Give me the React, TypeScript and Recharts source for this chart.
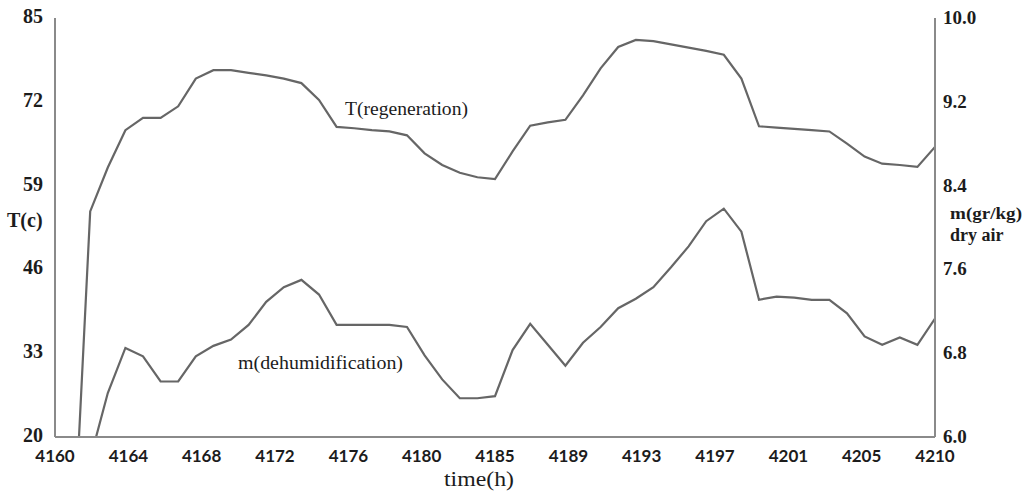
import React from 'react';
import { LineChart, Line, XAxis, YAxis } from 'recharts';

const hours = [
  4160, 4161, 4162, 4163, 4164, 4165, 4166, 4167, 4168, 4169,
  4170, 4171, 4172, 4173, 4174, 4175, 4176, 4177, 4178, 4179,
  4180, 4181, 4182, 4183, 4184, 4185, 4186, 4187, 4188, 4189,
  4190, 4191, 4192, 4193, 4194, 4195, 4196, 4197, 4198, 4199,
  4200, 4201, 4202, 4203, 4204, 4205, 4206, 4207, 4208, 4209, 4210,
];

const tRegeneration = [
  0, 0, 55.0, 61.8, 67.6, 69.5, 69.5, 71.3, 75.6, 76.9,
  76.9, 76.5, 76.1, 75.6, 74.9, 72.3, 68.1, 67.9, 67.6, 67.4,
  66.8, 64.0, 62.2, 61.0, 60.3, 60.0, 64.3, 68.3, 68.8, 69.2,
  73.0, 77.2, 80.5, 81.6, 81.4, 80.9, 80.4, 79.9, 79.3, 75.6,
  68.2, 68.0, 67.8, 67.6, 67.4, 65.5, 63.5, 62.4, 62.2, 61.9, 65.0,
];

const mDehumidification = [
  5.5, 5.6, 5.79, 6.42, 6.85, 6.77, 6.53, 6.53, 6.77, 6.87,
  6.93, 7.07, 7.29, 7.43, 7.5, 7.36, 7.07, 7.07, 7.07, 7.07,
  7.05, 6.78, 6.55, 6.37, 6.37, 6.39, 6.83, 7.08, 6.88, 6.68,
  6.9, 7.05, 7.23, 7.32, 7.43, 7.62, 7.82, 8.06, 8.18, 7.96,
  7.31, 7.34, 7.33, 7.31, 7.31, 7.18, 6.96, 6.88, 6.95, 6.88, 7.13,
];

const xTickPositions = [4160, 4164.17, 4168.33, 4172.5, 4176.67, 4180.83, 4185, 4189.17, 4193.33, 4197.5, 4201.67, 4205.83, 4210];
const xTickLabels = ['4160', '4164', '4168', '4172', '4176', '4180', '4185', '4189', '4193', '4197', '4201', '4205', '4210'];
const leftTicks = [20, 33, 46, 59, 72, 85];
const rightTicks = [6.0, 6.8, 7.6, 8.4, 9.2, 10.0];

const leftMinor = Array.from({ length: 51 }, (_, i) => 20 + i * 1.3);
const rightMinor = Array.from({ length: 51 }, (_, i) => 6 + i * 0.08);

const data = hours.map((h, i) => ({ t: h, T: tRegeneration[i], m: mDehumidification[i] }));

const AXIS = '#8a8a8a';
const LINE = '#666666';
const TEXT = '#1c1c1c';
const MINOR = '#9a9a9a';
const SERIF = '"Liberation Serif", "Times New Roman", serif';

const XTick = (props: any) => {
  const { x, y, payload } = props;
  const idx = xTickPositions.findIndex((p) => Math.abs(p - payload.value) < 0.01);
  return (
    <text x={x} y={y + 25} textAnchor="middle" fontFamily="Lato, sans-serif" fontWeight={700} fontSize={17} fill={TEXT}>
      {idx >= 0 ? xTickLabels[idx] : ''}
    </text>
  );
};

const LeftTick = (props: any) => {
  const { x, y, payload } = props;
  return (
    <text x={x - 12} y={y + 5} textAnchor="end" fontFamily={SERIF} fontWeight={700} fontSize={20} fill={TEXT}>
      {payload.value}
    </text>
  );
};

const RightTick = (props: any) => {
  const { x, y, payload } = props;
  return (
    <text x={x + 8} y={y + 6} textAnchor="start" fontFamily={SERIF} fontWeight={700} fontSize={19} fill={TEXT}>
      {Number(payload.value).toFixed(1)}
    </text>
  );
};

const NoLabel = () => <g />;

export default function App() {
  return (
    <div style={{ position: 'absolute', left: 0, top: 0, width: 1029, height: 492, background: '#fff' }}>
      <LineChart width={1029} height={492} data={data} margin={{ top: 18, right: 0, bottom: 0, left: 0 }}>
        <XAxis
          xAxisId="main"
          dataKey="t"
          type="number"
          domain={[4160, 4210]}
          allowDataOverflow
          ticks={xTickPositions}
          tick={<XTick />}
          tickLine={false}
          tickSize={0}
          tickMargin={0}
          height={55}
          axisLine={{ stroke: AXIS, strokeWidth: 2 }}
        />
        <XAxis
          xAxisId="minor"
          type="number"
          domain={[4160, 4210]}
          allowDataOverflow
          ticks={hours}
          tick={<NoLabel />}
          axisLine={false}
          tickLine={{ stroke: MINOR, strokeWidth: 1 }}
          tickSize={4}
          mirror
          height={0}
        />
        <XAxis
          xAxisId="top"
          orientation="top"
          type="number"
          domain={[4160, 4210]}
          allowDataOverflow
          tick={false}
          tickLine={false}
          height={0}
          axisLine={{ stroke: AXIS, strokeWidth: 2 }}
        />
        <YAxis
          yAxisId="left"
          orientation="left"
          type="number"
          domain={[20, 85]}
          allowDataOverflow
          ticks={leftTicks}
          tick={<LeftTick />}
          tickLine={false}
          tickSize={0}
          tickMargin={0}
          width={55}
          axisLine={{ stroke: AXIS, strokeWidth: 2 }}
        />
        <YAxis
          yAxisId="lminor"
          orientation="left"
          type="number"
          domain={[20, 85]}
          allowDataOverflow
          ticks={leftMinor}
          tick={<NoLabel />}
          axisLine={false}
          tickLine={{ stroke: MINOR, strokeWidth: 1 }}
          tickSize={3}
          mirror
          width={0}
        />
        <YAxis
          yAxisId="right"
          orientation="right"
          type="number"
          domain={[6, 10]}
          allowDataOverflow
          ticks={rightTicks}
          tick={<RightTick />}
          tickLine={false}
          tickSize={0}
          tickMargin={0}
          width={94}
          axisLine={{ stroke: AXIS, strokeWidth: 2 }}
        />
        <YAxis
          yAxisId="rminor"
          orientation="right"
          type="number"
          domain={[6, 10]}
          allowDataOverflow
          ticks={rightMinor}
          tick={<NoLabel />}
          axisLine={false}
          tickLine={{ stroke: MINOR, strokeWidth: 1 }}
          tickSize={3}
          mirror
          width={0}
        />
        <Line
          xAxisId="main"
          yAxisId="left"
          type="linear"
          dataKey="T"
          stroke={LINE}
          strokeWidth={2.2}
          dot={false}
          isAnimationActive={false}
        />
        <Line
          xAxisId="main"
          yAxisId="right"
          type="linear"
          dataKey="m"
          stroke={LINE}
          strokeWidth={2.2}
          dot={false}
          isAnimationActive={false}
        />
      </LineChart>
      <svg width={1029} height={492} style={{ position: 'absolute', left: 0, top: 0, pointerEvents: 'none' }}>
        <text x={7} y={220} dominantBaseline="central" fontFamily={SERIF} fontWeight={700} fontSize={20} fill={TEXT}>T(c)</text>
        <text x={950} y={213} dominantBaseline="central" fontFamily={SERIF} fontWeight={700} fontSize={17.5} fill={TEXT} textLength={72} lengthAdjust="spacingAndGlyphs">m(gr/kg)</text>
        <text x={950} y={235} dominantBaseline="central" fontFamily={SERIF} fontWeight={700} fontSize={18} fill={TEXT}>dry air</text>
        <text x={444} y={479} dominantBaseline="central" fontFamily={SERIF} fontSize={21} fill={TEXT} textLength={70} lengthAdjust="spacingAndGlyphs">time(h)</text>
        <text x={345} y={109} dominantBaseline="central" fontFamily={SERIF} fontSize={18} fill={TEXT} textLength={123} lengthAdjust="spacingAndGlyphs">T(regeneration)</text>
        <text x={238} y={363} dominantBaseline="central" fontFamily={SERIF} fontSize={18} fill={TEXT} textLength={165} lengthAdjust="spacingAndGlyphs">m(dehumidification)</text>
      </svg>
    </div>
  );
}
